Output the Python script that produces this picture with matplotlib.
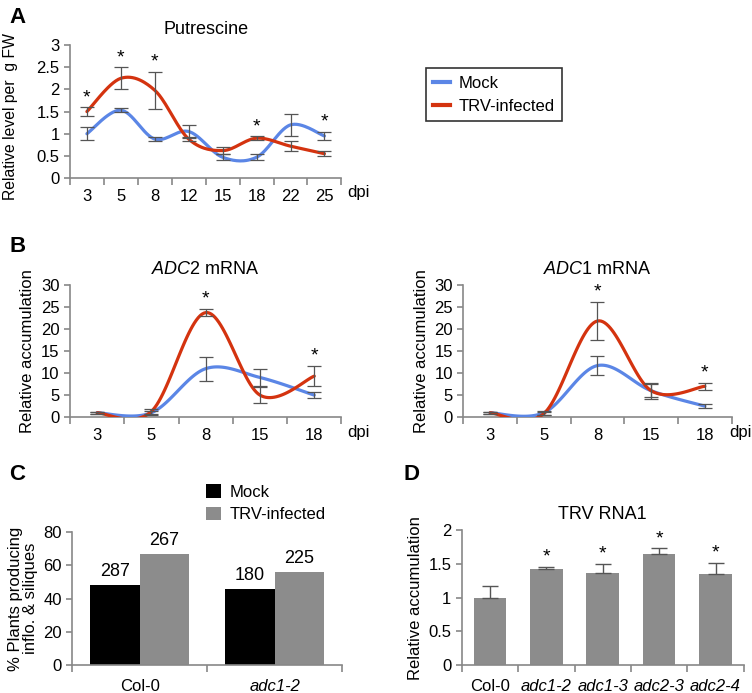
import numpy as np
import matplotlib
matplotlib.use("Agg")
import matplotlib.pyplot as plt

plt.rcParams['font.family'] = ['Liberation Sans', 'DejaVu Sans']
plt.rcParams['mathtext.fontset'] = 'custom'
plt.rcParams['mathtext.rm'] = 'Liberation Sans'
plt.rcParams['mathtext.it'] = 'Liberation Sans:italic'

# panel A - putrescine
dpi_a = ["3", "5", "8", "12", "15", "18", "22", "25"]
put_mock = [1.0, 1.53, 0.88, 1.05, 0.47, 0.47, 1.2, 0.95]
put_mock_err = [0.15, 0.05, 0.05, 0.15, 0.07, 0.07, 0.25, 0.1]
put_trv = [1.5, 2.25, 1.98, 0.88, 0.62, 0.9, 0.72, 0.55]
put_trv_err = [0.1, 0.25, 0.42, 0.05, 0.08, 0.05, 0.12, 0.05]
put_star = [0, 1, 2, 5, 7]

# panel B
dpi_b = ["3", "5", "8", "15", "18"]
adc2_mock = [1.0, 1.0, 11.0, 9.0, 5.0]
adc2_mock_err = [0.2, 0.5, 2.7, 2.0, 0.6]
adc2_trv = [1.0, 1.3, 23.7, 5.0, 9.3]
adc2_trv_err = [0.2, 0.5, 0.8, 1.8, 2.3]
adc2_star = [2, 4]
adc1_mock = [1.0, 1.0, 11.7, 6.0, 2.5]
adc1_mock_err = [0.2, 0.4, 2.1, 1.8, 0.5]
adc1_trv = [1.0, 0.8, 21.8, 6.0, 7.0]
adc1_trv_err = [0.2, 0.3, 4.4, 1.5, 0.8]
adc1_star = [2, 4]

# panel C
geno_c = ["Col-0", "adc1-2"]
pct_mock = [48, 46]
pct_trv = [67, 56]
n_mock = ["287", "180"]
n_trv = ["267", "225"]

# panel D
geno_d = ["Col-0", "adc1-2", "adc1-3", "adc2-3", "adc2-4"]
rna1 = [1.0, 1.42, 1.37, 1.64, 1.35]
rna1_err = [0.18, 0.04, 0.13, 0.09, 0.17]
rna1_star = [1, 2, 3, 4]

blue = "#5b86e6"
red = "#d4330f"
errc = "#555555"
axc = "#888888"
fs = 12
tfs = 13


def smooth(y, n=30):
    # Excel-like smoothed line (Bezier through points)
    y = np.asarray(y, float)
    x = np.arange(len(y), dtype=float)
    px = np.concatenate([[x[0]], x, [x[-1]]])
    py = np.concatenate([[y[0]], y, [y[-1]]])
    xs, ys = [], []
    t = np.linspace(0, 1, n)
    for i in range(len(y) - 1):
        p0x, p0y = px[i + 1], py[i + 1]
        p3x, p3y = px[i + 2], py[i + 2]
        c1x = p0x + (px[i + 2] - px[i]) / 6
        c1y = p0y + (py[i + 2] - py[i]) / 6
        c2x = p3x - (px[i + 3] - px[i + 1]) / 6
        c2y = p3y - (py[i + 3] - py[i + 1]) / 6
        b0, b1, b2, b3 = (1 - t) ** 3, 3 * t * (1 - t) ** 2, 3 * t ** 2 * (1 - t), t ** 3
        xs.append(b0 * p0x + b1 * c1x + b2 * c2x + b3 * p3x)
        ys.append(b0 * p0y + b1 * c1y + b2 * c2y + b3 * p3y)
    return np.concatenate(xs), np.concatenate(ys)


def style(ax, ncat, labels, ylim, yticks, yfmt=None):
    for s in ["top", "right"]:
        ax.spines[s].set_visible(False)
    for s in ["left", "bottom"]:
        ax.spines[s].set_color(axc)
        ax.spines[s].set_linewidth(1.2)
    ax.set_xlim(-0.5, ncat - 0.5)
    ax.set_ylim(*ylim)
    ax.set_yticks(yticks)
    if yfmt:
        ax.set_yticklabels(yfmt)
    ax.set_xticks(range(ncat))
    ax.set_xticklabels(labels)
    ax.set_xticks(np.arange(-0.5, ncat, 1.0), minor=True)
    ax.tick_params(axis="x", which="major", length=0, pad=8, labelsize=fs)
    ax.tick_params(axis="x", which="minor", length=5, color=axc, width=1.2)
    ax.tick_params(axis="y", length=4, color=axc, width=1.2, labelsize=fs)


def lines(ax, mock, mock_err, trv, trv_err, stars, soff):
    x = np.arange(len(mock))
    for vals, err, c in [(mock, mock_err, blue), (trv, trv_err, red)]:
        sx, sy = smooth(vals)
        ax.plot(sx, sy, color=c, lw=2.3, zorder=3, solid_capstyle="round")
        ax.errorbar(x, vals, yerr=err, fmt="none", ecolor=errc, elinewidth=0.9,
                    capsize=5, capthick=0.9, zorder=4)
    for i in stars:
        top = max(mock[i] + mock_err[i], trv[i] + trv_err[i])
        ax.text(i, top + soff, "*", ha="center", va="bottom", fontsize=14)


fig = plt.figure(figsize=(7.52, 6.93), dpi=100)

# A
axA = fig.add_axes([0.093, 0.743, 0.361, 0.192])
lines(axA, put_mock, put_mock_err, put_trv, put_trv_err, put_star, 0.02)
style(axA, 8, dpi_a, (0, 3), [0, 0.5, 1, 1.5, 2, 2.5, 3], ["0", "0.5", "1", "1.5", "2", "2.5", "3"])
axA.set_title("Putrescine", fontsize=tfs, pad=8)
axA.set_ylabel("Relative level per  g FW", fontsize=11.3)
axA.yaxis.set_label_coords(-0.19, 0.465)
axA.text(7.68, -0.33, "dpi", fontsize=fs, va="center")
axA.plot([], [], color=blue, lw=3, label="Mock")
axA.plot([], [], color=red, lw=3, label="TRV-infected")
leg = axA.legend(loc="upper left", bbox_to_anchor=(1.28, 0.89), fontsize=fs, frameon=True,
                 fancybox=False, handlelength=1.0, handletextpad=0.5, edgecolor="black",
                 borderpad=0.45, labelspacing=0.5)
leg.get_frame().set_linewidth(1.2)

# B left
axB1 = fig.add_axes([0.093, 0.398, 0.361, 0.191])
lines(axB1, adc2_mock, adc2_mock_err, adc2_trv, adc2_trv_err, adc2_star, 0.3)
style(axB1, 5, dpi_b, (0, 30), range(0, 31, 5))
axB1.set_title("$\\mathit{ADC2}$ mRNA", fontsize=tfs, pad=8)
axB1.set_ylabel("Relative accumulation", fontsize=fs)
axB1.text(4.6, -3.4, "dpi", fontsize=fs, va="center")

# B right
axB2 = fig.add_axes([0.616, 0.398, 0.357, 0.191])
lines(axB2, adc1_mock, adc1_mock_err, adc1_trv, adc1_trv_err, adc1_star, 0.3)
style(axB2, 5, dpi_b, (0, 30), range(0, 31, 5))
axB2.set_title("$\\mathit{ADC1}$ mRNA", fontsize=tfs, pad=8)
axB2.set_ylabel("Relative accumulation", fontsize=fs)
fig.text(0.999, 0.376, "dpi", fontsize=fs, va="center", ha="right")

# C
axC = fig.add_axes([0.096, 0.040, 0.359, 0.192])
xc = np.arange(len(geno_c))
w = 0.365
axC.bar(xc - w / 2, pct_mock, w, color="black", label="Mock")
axC.bar(xc + w / 2, pct_trv, w, color="#8c8c8c", label="TRV-infected")
for i in range(len(geno_c)):
    axC.text(xc[i] - w / 2, pct_mock[i] + 3, n_mock[i], ha="center", va="bottom", fontsize=13)
    axC.text(xc[i] + w / 2, pct_trv[i] + 3, n_trv[i], ha="center", va="bottom", fontsize=13)
style(axC, 2, geno_c, (0, 80), range(0, 81, 20))
axC.get_xticklabels()[1].set_fontstyle("italic")
axC.tick_params(axis="x", which="major", pad=10)
axC.set_ylabel("% Plants producing\ninflo. & siliques", fontsize=fs, linespacing=1.0)
axC.legend(loc="lower left", bbox_to_anchor=(0.46, 1.0), fontsize=fs, frameon=False,
           handlelength=0.9, handleheight=0.9, handletextpad=0.5, borderaxespad=0.2,
           labelspacing=0.4)

# D
axD = fig.add_axes([0.614, 0.040, 0.375, 0.195])
xd = np.arange(len(geno_d))
axD.bar(xd, rna1, 0.58, color="#8c8c8c")
axD.errorbar(xd, rna1, yerr=[np.zeros(len(rna1)), rna1_err], fmt="none", ecolor=errc,
             elinewidth=1.0, capsize=6, capthick=1.0)
for i in rna1_star:
    axD.text(i, rna1[i] + rna1_err[i] + 0.02, "*", ha="center", va="bottom", fontsize=14)
style(axD, 5, geno_d, (0, 2), [0, 0.5, 1, 1.5, 2], ["0", "0.5", "1", "1.5", "2"])
for t in axD.get_xticklabels()[1:]:
    t.set_fontstyle("italic")
axD.tick_params(axis="x", which="major", pad=10)
axD.set_title("TRV RNA1", fontsize=tfs, pad=8)
axD.set_ylabel("Relative accumulation", fontsize=fs)

# panel letters
for lab, x, y in [("A", 0.012, 0.975), ("B", 0.012, 0.645), ("C", 0.012, 0.315), ("D", 0.537, 0.315)]:
    fig.text(x, y, lab, fontsize=16, fontweight="bold", va="center")

fig.savefig("out.png", dpi=100)
